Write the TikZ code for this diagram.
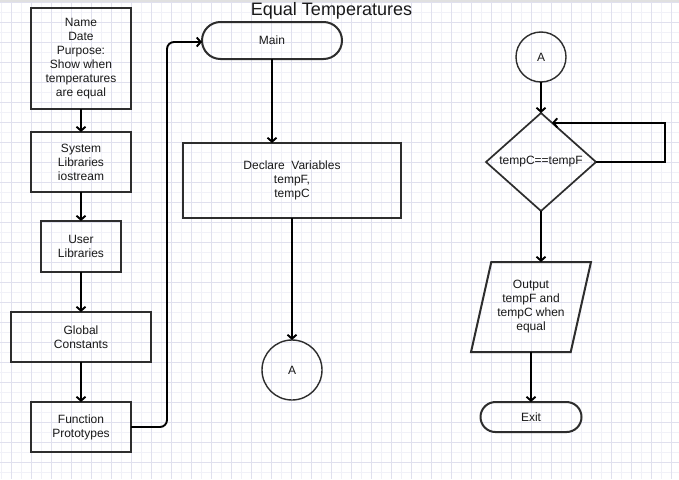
\documentclass[tikz,border=0pt]{standalone}
\usepackage{fontspec}
\setmainfont{Liberation Sans}
\usepackage{tikz}
\usetikzlibrary{calc}
\usetikzlibrary{positioning}
\usetikzlibrary{shapes.geometric}
\usetikzlibrary{shapes.misc}
\usetikzlibrary{arrows.meta}
\usepackage{xcolor}

\definecolor{gridmajor}{RGB}{224,224,238}
\definecolor{gridminor}{RGB}{241,241,248}
\definecolor{edgegray}{RGB}{45,45,45}
\definecolor{textblack}{RGB}{25,25,25}

\tikzset{
  box/.style={rectangle, draw=edgegray, line width=2pt, align=center, inner sep=0pt,
    outer sep=0pt, text=textblack, font=\fontsize{12}{14}\selectfont},
  term/.style={box, rounded rectangle},
  conn/.style={circle, draw=edgegray, line width=1.4pt, inner sep=0pt, outer sep=0pt,
    text=textblack, font=\fontsize{12}{14}\selectfont},
  decide/.style={box, diamond, line width=1.7pt, aspect=1.12},
  io/.style={box, trapezium, trapezium left angle=72, trapezium right angle=108,
    trapezium stretches=true},
  flow/.style={line width=1.9pt, draw=black, -{Straight Barb[length=4pt,width=9pt]}}
}

\begin{document}
\begin{tikzpicture}[x=1pt, y=1pt]

    % Background and grid
    \fill[white] (0,0) rectangle (679,-479);
    \useasboundingbox (0,0) rectangle (679,-479);
    \foreach \gx in {1.7,21.7,...,661.7} \draw[gridminor, line width=1pt] (\gx,0) -- (\gx,-479);
    \foreach \gy in {12.7,32.7,...,472.7} \draw[gridminor, line width=1pt] (0,-\gy) -- (679,-\gy);
    \foreach \gx in {11.7,31.7,...,671.7} \draw[gridmajor, line width=1pt] (\gx,0) -- (\gx,-479);
    \foreach \gy in {2.7,22.7,...,462.7} \draw[gridmajor, line width=1pt] (0,-\gy) -- (679,-\gy);
    \draw[black!12, line width=1.5pt] (0,-0.75) -- (679,-0.75);

    % Title
    \node[anchor=base, text=textblack, font=\fontsize{18}{20}\selectfont] (title) at (331.5,-15) {Equal Temperatures};

    % Left column
    \node[box, minimum width=100pt, minimum height=101pt] (header) at (81,-58.5) {Name\\Date\\Purpose:\\Show when\\temperatures\\are equal};
    \node[box, below=23pt of header, minimum width=100pt, minimum height=60pt] (syslib) {System\\Libraries\\iostream};
    \node[box, below=29pt of syslib, minimum width=80pt, minimum height=51pt] (userlib) {User\\Libraries};
    \node[box, below=40pt of userlib, minimum width=140pt, minimum height=50pt] (globals) {Global\\Constants};
    \node[box, below=40pt of globals, minimum width=100pt, minimum height=50pt] (protos) {Function\\Prototypes};

    % Middle column
    \node[term, minimum width=140pt, minimum height=37pt] (main) at (272,-40.5) {Main};
    \node[box, below=84pt of main, xshift=20pt, minimum width=218pt, minimum height=75pt] (declare) {Declare\ \ Variables\\tempF,\\tempC};
    \node[conn, below=122pt of declare, minimum size=60pt] (offA) {A};

    % Right column
    \node[conn, minimum size=50pt] (onA) at (541,-57) {A};
    \node[decide, below=31pt of onA, minimum width=110pt, minimum height=98pt] (check) {tempC==tempF};
    \node[io, below=51pt of check, xshift=-10pt, minimum width=120pt, minimum height=90pt] (output) {Output\\tempF and\\tempC when\\equal};
    \node[term, below=50pt of output, minimum width=101pt, minimum height=30pt] (exit) {Exit};

    % Connect the nodes
    \draw[flow] (header) -- (syslib);
    \draw[flow] (syslib) -- (userlib);
    \draw[flow] (userlib) -- (globals);
    \draw[flow] (globals) -- (protos);
    \draw[flow, rounded corners=7pt] (protos.east) -- ++(36,0) |- ($(main.west)+(0,-1.5)$);
    \draw[flow] (main.south) -- (main.south |- declare.north);
    \draw[flow] (declare.south) -- (offA.north);
    \draw[flow] (onA.south) -- (check.north);
    \draw[flow] (check.east) -- ++(69,0) |- ($(check.north)!0.2!(check.east)$);
    \draw[flow] (check.south) -- (check.south |- output.north);
    \draw[flow] (output.south) -- (exit.north);

\end{tikzpicture}
\end{document}
